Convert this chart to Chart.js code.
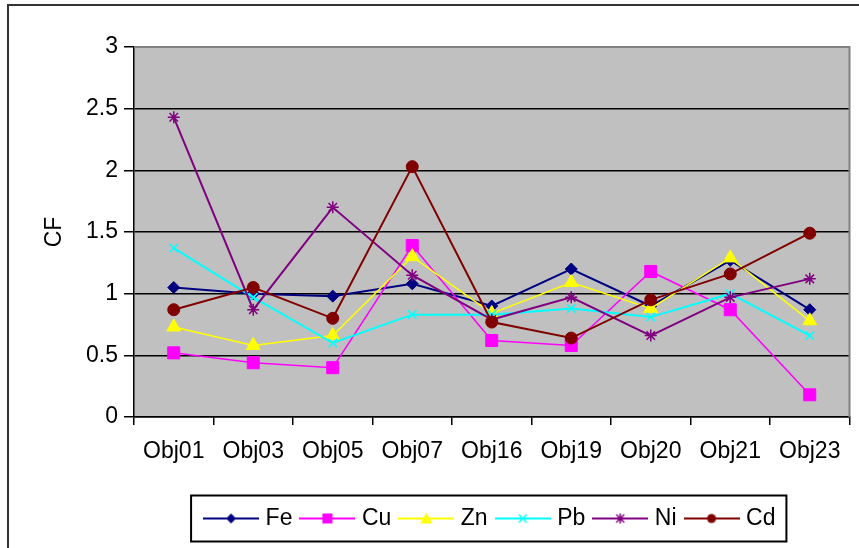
<!DOCTYPE html>
<html>
<head>
<meta charset="utf-8">
<script src="https://cdn.jsdelivr.net/npm/chart.js@4/dist/chart.umd.min.js"></script>
<style>
html,body{margin:0;padding:0;background:#fff;}
#wrap{width:859px;height:548px;position:relative;}
</style>
</head>
<body>
<div id="wrap"><canvas id="c" width="859" height="548"></canvas></div>
<script>
// ---- data ----
const categories = ['Obj01','Obj03','Obj05','Obj07','Obj16','Obj19','Obj20','Obj21','Obj23'];
const seriesNames = ['Fe','Cu','Zn','Pb','Ni','Cd'];
const fe = [1.05, 1.00, 0.98, 1.08, 0.90, 1.20, 0.90, 1.27, 0.87];
const cu = [0.52, 0.44, 0.40, 1.39, 0.62, 0.58, 1.18, 0.87, 0.18];
const zn = [0.73, 0.58, 0.66, 1.30, 0.84, 1.09, 0.88, 1.29, 0.78];
const pb = [1.37, 0.97, 0.60, 0.83, 0.83, 0.88, 0.81, 1.00, 0.66];
const ni = [2.43, 0.87, 1.70, 1.15, 0.79, 0.97, 0.66, 0.97, 1.12];
const cd = [0.87, 1.05, 0.80, 2.03, 0.77, 0.64, 0.95, 1.16, 1.49];
const yTicks = [0, 0.5, 1, 1.5, 2, 2.5, 3];
const yTitle = 'CF';

// ---- styles ----
const FONT = "'Liberation Sans', Arial, sans-serif";
const styles = [
  {color:'#000080', point:'rectRot',  radius:6,   lw:2,   icon:'diamond'},
  {color:'#FF00FF', point:'rect',     radius:8.5, lw:1.5, icon:'square'},
  {color:'#FFFF00', point:'triangle', radius:8,   lw:1.5, icon:'triangle'},
  {color:'#00FFFF', point:'crossRot', radius:6,   lw:2,   icon:'x'},
  {color:'#800080', point:'star',     radius:6,   lw:2,   icon:'star'},
  {color:'#800000', point:'circle',   radius:6,   lw:2,   icon:'circle'}
];
const values = [fe, cu, zn, pb, ni, cd];

function makeIcon(color, kind){
  const c = document.createElement('canvas');
  c.width = 56; c.height = 20;
  const g = c.getContext('2d');
  g.strokeStyle = color; g.fillStyle = color; g.lineWidth = 2;
  g.beginPath(); g.moveTo(0,10); g.lineTo(56,10); g.stroke();
  const x = 28, y = 10;
  g.beginPath();
  if (kind === 'diamond') { g.moveTo(x,y-5); g.lineTo(x+5,y); g.lineTo(x,y+5); g.lineTo(x-5,y); g.closePath(); g.fill(); }
  else if (kind === 'square') { g.fillRect(x-5,y-5,10,10); }
  else if (kind === 'triangle') { g.moveTo(x,y-6); g.lineTo(x+6,y+5); g.lineTo(x-6,y+5); g.closePath(); g.fill(); }
  else if (kind === 'x') { g.lineWidth=1.5; g.moveTo(x-4,y-4); g.lineTo(x+4,y+4); g.moveTo(x+4,y-4); g.lineTo(x-4,y+4); g.stroke(); }
  else if (kind === 'star') { g.lineWidth=1.5; g.moveTo(x-4,y-4); g.lineTo(x+4,y+4); g.moveTo(x+4,y-4); g.lineTo(x-4,y+4); g.moveTo(x,y-5); g.lineTo(x,y+5); g.stroke(); }
  else if (kind === 'circle') { g.arc(x,y,4.5,0,Math.PI*2); g.fill(); }
  return c;
}
const icons = styles.map(s => makeIcon(s.color, s.icon));

const datasets = seriesNames.map((name, i) => ({
  label: name,
  data: values[i],
  order: seriesNames.length - i,   // later series drawn on top, as in the reference
  borderColor: styles[i].color,
  backgroundColor: styles[i].color,
  borderWidth: styles[i].lw,
  pointStyle: styles[i].point,
  pointRadius: styles[i].radius,
  pointBorderWidth: (styles[i].point === 'crossRot' || styles[i].point === 'star') ? 1.5 : 1,
  pointBackgroundColor: styles[i].color,
  pointBorderColor: styles[i].color,
  tension: 0,
  fill: false
}));

const framePlugin = {
  id: 'frame',
  beforeDraw(chart) {
    const {ctx, chartArea: a} = chart;
    ctx.save();
    ctx.fillStyle = '#fff';
    ctx.fillRect(0, 0, chart.width, chart.height);
    ctx.fillStyle = '#C0C0C0';
    ctx.fillRect(a.left, a.top, a.right - a.left, a.bottom - a.top);
    ctx.restore();
  },
  beforeDatasetsDraw(chart) {
    const {ctx, chartArea: a} = chart;
    ctx.save();
    ctx.strokeStyle = '#808080';
    ctx.lineWidth = 2;
    ctx.beginPath();
    ctx.moveTo(a.left, a.top);
    ctx.lineTo(a.right, a.top);
    ctx.lineTo(a.right, a.bottom);
    ctx.stroke();
    ctx.restore();
  },
  afterDraw(chart) {
    const {ctx} = chart;
    ctx.save();
    ctx.strokeStyle = '#333';
    ctx.lineWidth = 2;
    ctx.strokeRect(8, 5, chart.width + 10, chart.height + 10);
    const hb = chart.legend && chart.legend.legendHitBoxes;
    if (hb && hb.length) {
      const first = hb[0], last = hb[hb.length - 1];
      const cy = first.top + first.height / 2;
      const l = first.left - 17, r = last.left + last.width + 11;
      ctx.strokeStyle = '#000';
      ctx.lineWidth = 2;
      ctx.strokeRect(l, cy - 23, r - l, 46);
    }
    ctx.restore();
  }
};

new Chart(document.getElementById('c'), {
  type: 'line',
  data: { labels: categories, datasets },
  plugins: [framePlugin],
  options: {
    responsive: false,
    devicePixelRatio: 1,
    animation: false,
    layout: { padding: { top: 47, left: 8, right: 9, bottom: 8 } },
    plugins: {
      tooltip: { enabled: false },
      legend: {
        position: 'bottom',
        fullSize: false,
        labels: {
          usePointStyle: true,
          pointStyleWidth: 46,
          padding: 12,
          color: '#000',
          font: { family: FONT, size: 23 },
          generateLabels: (chart) => seriesNames.map((n, i) => ({
            text: n, pointStyle: icons[i], fillStyle: styles[i].color,
            strokeStyle: styles[i].color, lineWidth: 0, hidden: false, datasetIndex: i, fontColor: '#000'
          }))
        }
      }
    },
    scales: {
      x: {
        type: 'category',
        offset: true,
        afterFit: (s) => { s.height = 78; },
        grid: { display: true, drawOnChartArea: false, drawTicks: true, tickLength: 8, offset: true, color: '#000', lineWidth: 1.5 },
        border: { display: true, color: '#000', width: 1.5 },
        ticks: { color: '#000', font: { family: FONT, size: 23 }, padding: 13, autoSkip: false, maxRotation: 0, minRotation: 0 }
      },
      y: {
        min: 0, max: 3,
        afterFit: (s) => { s.width = 126; },
        afterBuildTicks: (s) => { s.ticks = yTicks.map(v => ({ value: v })); },
        grid: {
          color: (c) => (c.tick && c.tick.value === 3) ? '#808080' : '#000',
          lineWidth: 1.5, drawTicks: true, tickLength: 10, tickColor: '#000', tickWidth: 1.5
        },
        border: { display: true, color: '#000', width: 1.5 },
        ticks: { color: '#000', font: { family: FONT, size: 23 }, padding: 6, callback: (v) => String(v) },
        title: { display: true, text: yTitle, color: '#000', font: { family: FONT, size: 23, lineHeight: 1 }, padding: { top: 35, bottom: 0 } }
      }
    }
  }
});
</script>
</body>
</html>
